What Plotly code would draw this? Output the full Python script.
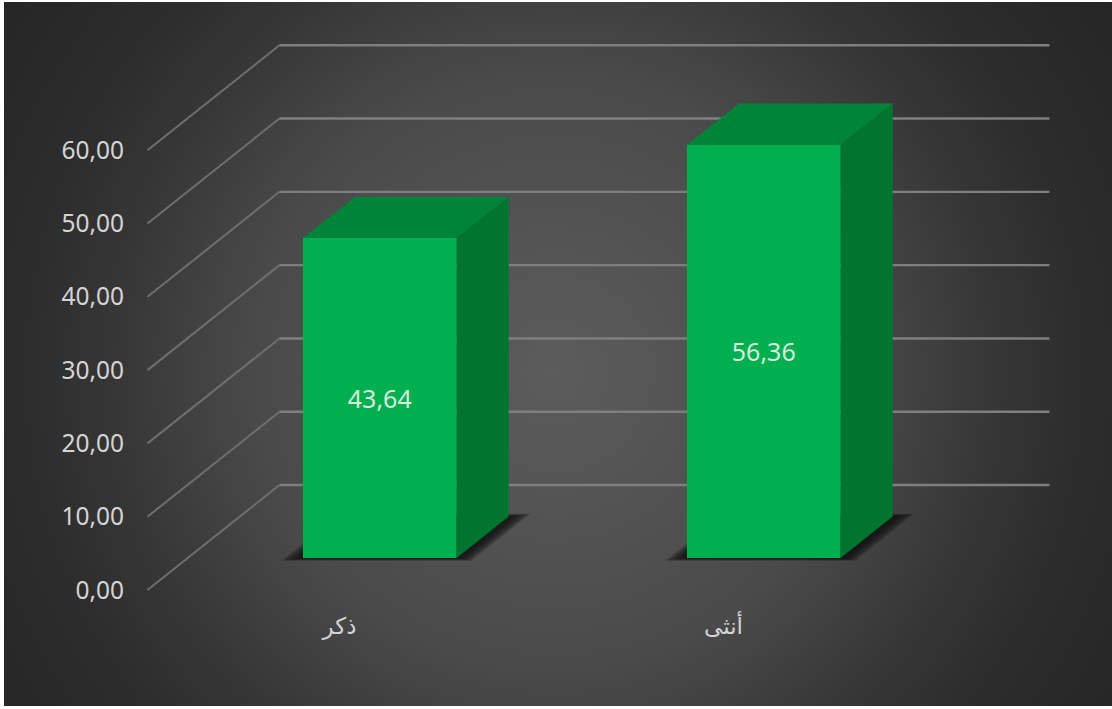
import base64
import plotly.graph_objects as go

# Chart data
categories = ["ذكر", "أنثى"]
values = [43.64, 56.36]
value_labels = ["43,64", "56,36"]
tick_values = [0, 10, 20, 30, 40, 50, 60]
tick_labels = ["0,00", "10,00", "20,00", "30,00", "40,00", "50,00", "60,00"]

# Oblique projection of the 3D box: depth 0 is the front of the floor, depth 1 the back wall
SKEW_X = 0.3437      # category units of sideways shift per unit of depth
SKEW_Y = 14.32       # value units of upward shift per unit of depth
BAR_HALF = 0.2
DEPTH_FRONT = 0.305
DEPTH_BACK = 0.70

PX_X = 384.0         # pixels per category
PX_Y = 7.33          # pixels per value unit

FRONT = "#00B050"
SIDE = "#00752F"
TOP = "#00843A"
GRID_WALL = "#7f7f7f"
GRID_SIDE = "#6f6f6f"
TEXT = "#D4D4D4"
LABEL_FONT = "Noto Sans, Open Sans, sans-serif"
CATEGORY_FONT = "Liberation Sans, DejaVu Sans, sans-serif"
LABEL_DROP = 0.5     # value labels sit slightly under the face centre


def project(cat, value, depth):
    return cat + SKEW_X * depth, value + SKEW_Y * depth


def polygon(corners, color, name):
    pts = [project(*c) for c in corners]
    xs = [p[0] for p in pts] + [pts[0][0]]
    ys = [p[1] for p in pts] + [pts[0][1]]
    return go.Scatter(x=xs, y=ys, mode="lines", fill="toself", fillcolor=color,
                      line=dict(width=0), hoverinfo="skip", showlegend=False, name=name)


def grid_trace(segment, color, width, name):
    gx, gy = [], []
    for v in tick_values:
        for cat, depth in segment:
            px, py = project(cat, v, depth)
            gx.append(px)
            gy.append(py)
        gx.append(None)
        gy.append(None)
    return go.Scatter(x=gx, y=gy, mode="lines", line=dict(color=color, width=width),
                      hoverinfo="skip", showlegend=False, name=name)


fig = go.Figure()

# Side-wall diagonals, then back-wall horizontals
fig.add_trace(grid_trace([(-0.5, 0), (-0.5, 1)], GRID_SIDE, 2, "grid side"))
fig.add_trace(grid_trace([(-0.5, 1), (1.505, 1)], GRID_WALL, 2.4, "grid wall"))

for i, val in enumerate(values):
    left, right = i - BAR_HALF, i + BAR_HALF

    # Soft contact shadow on the floor, built from stacked translucent footprints
    for ex, ed in [(0.048, 0.026), (0.044, 0.023), (0.040, 0.020), (0.035, 0.017),
                   (0.030, 0.014), (0.025, 0.011), (0.020, 0.008), (0.014, 0.005)]:
        fig.add_trace(polygon(
            [(left - ex, 0, DEPTH_FRONT - ed), (right + ex, 0, DEPTH_FRONT - ed),
             (right + ex, 0, DEPTH_BACK + ed), (left - ex, 0, DEPTH_BACK + ed)],
            "rgba(12,12,12,0.16)", "shadow"))

    # Box faces
    fig.add_trace(polygon(
        [(right, 0, DEPTH_FRONT), (right, 0, DEPTH_BACK),
         (right, val, DEPTH_BACK), (right, val, DEPTH_FRONT)], SIDE, "side"))
    fig.add_trace(polygon(
        [(left, val, DEPTH_FRONT), (right, val, DEPTH_FRONT),
         (right, val, DEPTH_BACK), (left, val, DEPTH_BACK)], TOP, "top"))
    fig.add_trace(polygon(
        [(left, 0, DEPTH_FRONT), (right, 0, DEPTH_FRONT),
         (right, val, DEPTH_FRONT), (left, val, DEPTH_FRONT)], FRONT, "front"))

# Value labels on each front face
label_pts = [project(i, v / 2 - LABEL_DROP, DEPTH_FRONT) for i, v in enumerate(values)]
fig.add_trace(go.Scatter(
    x=[p[0] for p in label_pts], y=[p[1] for p in label_pts], mode="text",
    text=value_labels, textposition="middle center",
    textfont=dict(family=LABEL_FONT, size=25, color="#D6EBDB"),
    hoverinfo="skip", showlegend=False))

# Radial backdrop of the chart area
svg = """<svg xmlns="http://www.w3.org/2000/svg" width="1108" height="704" preserveAspectRatio="none">
<defs><radialGradient id="g" gradientUnits="userSpaceOnUse" cx="550" cy="370" r="680">
<stop offset="0%" stop-color="#5c5c5c"/><stop offset="44%" stop-color="#4a4a4a"/>
<stop offset="65%" stop-color="#363636"/><stop offset="77%" stop-color="#2d2d2d"/>
<stop offset="100%" stop-color="#252525"/>
</radialGradient></defs><rect width="1108" height="704" fill="url(#g)"/></svg>"""
backdrop = "data:image/svg+xml;base64," + base64.b64encode(svg.encode()).decode()

W, H = 1112, 709
x0_px = 339.5   # pixel of category 0 at depth 0
y0_px = 590.0   # pixel of value 0 at depth 0

fig.update_layout(
    width=W, height=H,
    margin=dict(l=0, r=0, t=0, b=0, pad=0),
    paper_bgcolor="white",
    plot_bgcolor="rgba(0,0,0,0)",
    showlegend=False,
    hovermode=False,
    images=[dict(source=backdrop, xref="paper", yref="paper", x=4 / W, y=1 - 2 / H,
                 sizex=1108 / W, sizey=704 / H, sizing="stretch", layer="below",
                 xanchor="left", yanchor="top")],
    xaxis=dict(
        range=[(0 - x0_px) / PX_X, (W - x0_px) / PX_X],
        tickmode="array", tickvals=[0, 1], ticktext=categories,
        tickfont=dict(family=CATEGORY_FONT, size=23, color=TEXT),
        showgrid=False, zeroline=False, showline=False, ticks="",
        anchor="free", position=1 - 610 / H, fixedrange=True,
    ),
    yaxis=dict(
        range=[(y0_px - H) / PX_Y, y0_px / PX_Y],
        tickmode="array", tickvals=tick_values, ticktext=tick_labels,
        tickfont=dict(family=LABEL_FONT, size=24.5, color=TEXT),
        showgrid=False, zeroline=False, showline=False, ticks="",
        anchor="free", position=124 / W, fixedrange=True,
    ),
)

fig.write_html("out.html", config=dict(displayModeBar=False))
